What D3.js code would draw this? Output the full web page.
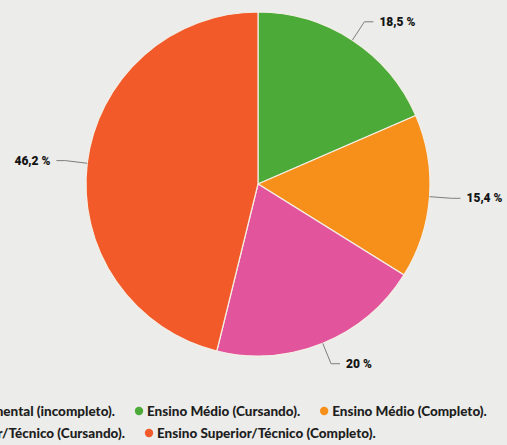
<!DOCTYPE html>
<html>
<head>
<meta charset="utf-8">
<script src="https://cdn.jsdelivr.net/npm/d3@7"></script>
<style>
  html, body { margin: 0; padding: 0; background: #ececea; overflow: hidden; }
  svg { display: block; }
</style>
</head>
<body>
<script>
// data
var categories = ["Ensino Fundamental (incompleto).", "Ensino Médio (Cursando).", "Ensino Médio (Completo).",
                  "Ensino Superior/Técnico (Cursando).", "Ensino Superior/Técnico (Completo)."];
var values = [0, 18.5, 15.4, 20, 46.2];
var colors = ["#3f7fd1", "#4caa38", "#f7901a", "#e2559c", "#f25a2a"];

var width = 507, height = 445;
var cx = 258, cy = 184, radius = 172;

var svg = d3.select("body").append("svg")
    .attr("width", width)
    .attr("height", height);

// pie, clockwise from 12 o'clock, keep order
var pie = d3.pie().sort(null).value(function(d) { return d.value; });
var arc = d3.arc().innerRadius(0).outerRadius(radius);

var data = categories.map(function(c, i) { return {name: c, value: values[i], color: colors[i]}; });
var arcs = pie(data).filter(function(d) { return d.data.value > 0; });

var g = svg.append("g").attr("transform", "translate(" + cx + "," + cy + ")");

g.selectAll("path.slice")
    .data(arcs)
    .enter().append("path")
    .attr("class", "slice")
    .attr("d", arc)
    .attr("fill", function(d) { return d.data.color; })
    .attr("stroke", "#f4efe6")
    .attr("stroke-width", 1.2);

// labels with leader lines
function pt(a, r) { return [Math.sin(a) * r, -Math.cos(a) * r]; }
var fmt = function(v) { return d3.format(".1~f")(v).replace(".", ",") + " %"; };

arcs.forEach(function(d) {
    var a = (d.startAngle + d.endAngle) / 2;
    var right = Math.sin(a) >= 0;
    var p0 = pt(a, radius), p1 = pt(a, radius + 22);
    var p2 = [p1[0] + (right ? 9 : -9), p1[1]];
    g.append("path")
        .attr("d", d3.line()([p0, p1, p2]))
        .attr("fill", "none")
        .attr("stroke", "#7d7d7d")
        .attr("stroke-width", 1);
    g.append("text")
        .attr("x", p2[0] + (right ? 6 : -6))
        .attr("y", p2[1])
        .attr("dy", "0.35em")
        .attr("text-anchor", right ? "start" : "end")
        .attr("font-family", "Roboto, sans-serif")
        .attr("font-weight", 900)
        .attr("font-size", 12)
        .attr("fill", "#151515")
        .text(fmt(d.data.value));
});

// legend, flowing rows (first item of each row is cut off on the left)
var rows = [[0, 1, 2], [3, 4]];
var rowY = [411, 433];
var rowEnd = [115, 125]; // where the first item's text ends
var legend = svg.append("g");

rows.forEach(function(row, ri) {
    var items = row.map(function(i) {
        var it = legend.append("g");
        it.append("circle").attr("r", 4.2).attr("fill", colors[i]);
        var t = it.append("text")
            .attr("x", 8)
            .attr("dy", "0.35em")
            .attr("font-family", "Lato, sans-serif")
            .attr("font-weight", 900)
            .attr("font-size", 13.5)
            .attr("fill", "#1e1e1e")
            .text(categories[i]);
        return {g: it, w: 8 + t.node().getComputedTextLength()};
    });
    var x = rowEnd[ri] - items[0].w;
    items.forEach(function(it) {
        it.g.attr("transform", "translate(" + x + "," + rowY[ri] + ")");
        x += it.w + 24;
    });
});
</script>
</body>
</html>
